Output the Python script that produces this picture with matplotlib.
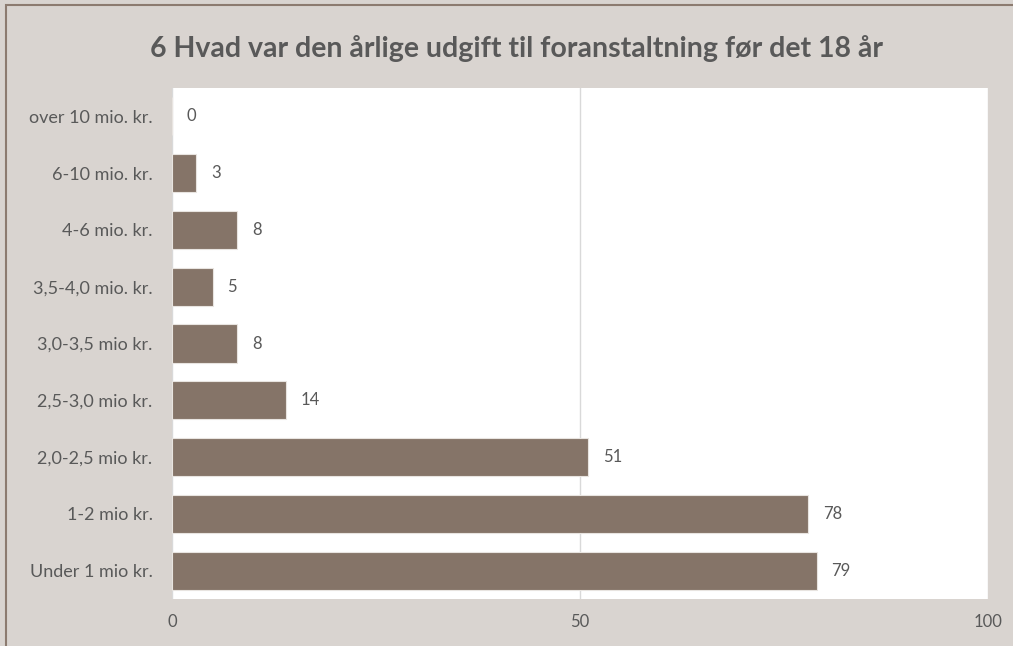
import matplotlib.pyplot as plt
from matplotlib.patches import Rectangle

plt.rcParams['font.family'] = ['Lato', 'DejaVu Sans']

categories = ['Under 1 mio kr.', '1-2 mio kr.', '2,0-2,5 mio kr.', '2,5-3,0 mio kr.',
              '3,0-3,5 mio kr.', '3,5-4,0 mio. kr.', '4-6 mio. kr.', '6-10 mio. kr.',
              'over 10 mio. kr.']
values = [79, 78, 51, 14, 8, 5, 8, 3, 0]
title = '6 Hvad var den årlige udgift til foranstaltning før det 18 år'

bg = '#d9d4d0'
bar_color = '#857468'
text_color = '#595959'

W, H = 1013, 646
fig = plt.figure(figsize=(W / 100, H / 100), dpi=100, facecolor=bg)
# plot area in pixels: left 172, right 988, top 88, bottom 599
ax = fig.add_axes([172 / W, 1 - 599 / H, (988 - 172) / W, (599 - 88) / H])
ax.set_facecolor('white')

y = range(len(categories))
ax.barh(y, values, height=0.67, color=bar_color, edgecolor='#e8e4e0', linewidth=0.8, zorder=3)
for yi, v in zip(y, values):
    ax.text(v + 1.8, yi, str(v), va='center', ha='left', fontsize=12, color=text_color)

ax.set_xlim(0, 100)
ax.set_ylim(-0.5, len(categories) - 0.5)
ax.set_xticks([0, 50, 100])
ax.set_yticks(list(y))
ax.set_yticklabels(categories, fontsize=13)
ax.xaxis.grid(True, color='#d9d9d9', linewidth=1, zorder=0)
ax.tick_params(axis='both', length=0, labelcolor=text_color)
ax.tick_params(axis='x', pad=11, labelsize=12)
ax.tick_params(axis='y', pad=14)
for s in ax.spines.values():
    s.set_visible(False)

fig.text(0.5 + 10 / W, 1 - 48 / H, title, ha='center', va='center', fontsize=20.5,
         fontweight='bold', color=text_color)

fig.patches.append(Rectangle((6 / W, -0.1), 1.2, 1 - 5 / H + 0.1, transform=fig.transFigure,
                             fill=False, edgecolor='#8c7b70', linewidth=1.5))

fig.savefig('out.png', dpi=100, facecolor=bg)
